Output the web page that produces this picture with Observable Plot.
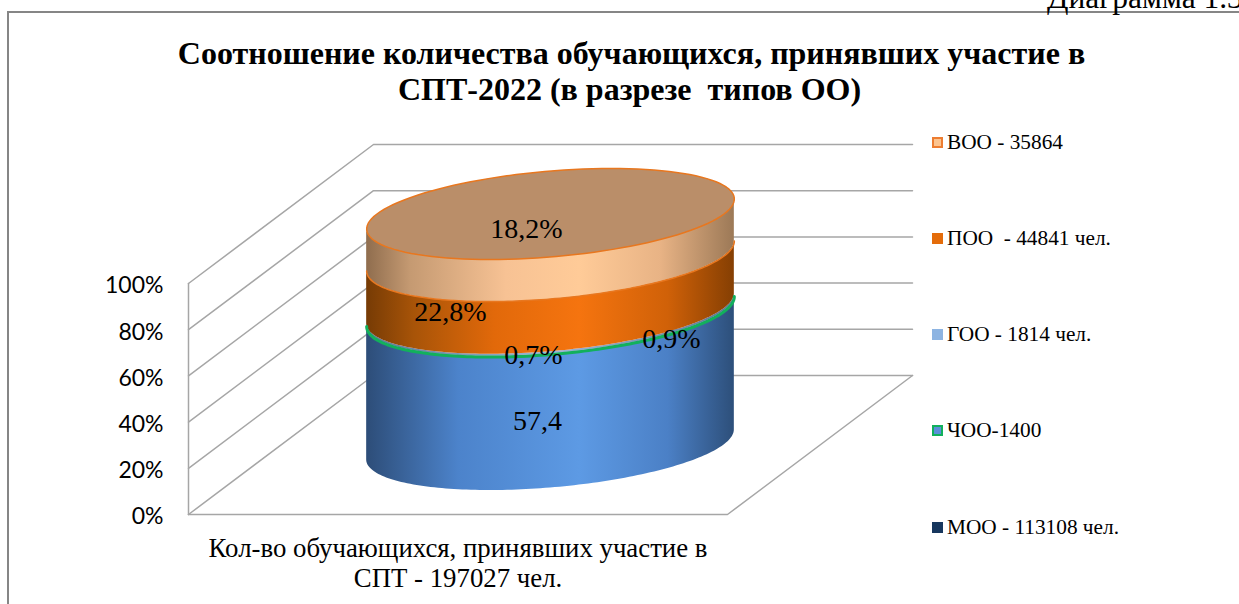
<!DOCTYPE html>
<html lang="ru">
<head>
<meta charset="utf-8">
<script src="https://cdn.jsdelivr.net/npm/d3@7"></script>
<script src="https://cdn.jsdelivr.net/npm/@observablehq/plot@0.6"></script>
<style>
  html, body { margin: 0; padding: 0; background: #fff; overflow: hidden; width: 1239px; height: 604px; }
  #page { position: relative; width: 1239px; height: 604px; overflow: hidden; font-family: "Liberation Serif", serif; color: #000; }
  #chart { position: absolute; left: 0; top: 0; }
  #frame { position: absolute; left: 7px; top: 11px; width: 1240px; height: 610px; border-left: 2px solid #868686; border-top: 2px solid #868686; }
  #note { position: absolute; left: 1047px; top: -20px; font-size: 31.5px; white-space: pre; }
  .title { position: absolute; width: 1239px; left: 0; text-align: center; font-weight: bold; font-size: 32px; white-space: pre; line-height: 36px; }
  .legend-row { position: absolute; left: 932px; height: 20px; display: flex; align-items: center; font-size: 21.3px; white-space: pre; }
  .swatch { box-sizing: border-box; width: 11px; height: 11px; margin-right: 4px; flex: none; }
</style>
</head>
<body>
<div id="page">
  <div id="chart"></div>
  <div id="frame"></div>
  <div id="note">Диаграмма 1.3</div>
  <div class="title" style="top:35px;left:12px">Соотношение количества обучающихся, принявших участие в</div>
  <div class="title" style="top:71px;left:10px">СПТ-2022 (в разрезе  типов ОО)</div>
  <div id="legend"></div>
</div>
<script>
// ---- data ----
const categories = ["МОО", "ЧОО", "ГОО", "ПОО", "ВОО"];
const percents = [57.4, 0.7, 0.9, 22.8, 18.2];
const valueLabels = ["57,4", "0,7%", "0,9%", "22,8%", "18,2%"];
const legendLabels = ["МОО - 113108 чел.", "ЧОО-1400", "ГОО - 1814 чел.", "ПОО  - 44841 чел.", "ВОО - 35864"];
const tickValues = [0, 20, 40, 60, 80, 100];
const categoryLabel = "Кол-во обучающихся, принявших участие в\nСПТ - 197027 чел.";

// ---- styles ----
const gridColor = "#a6a6a6";
const legendFill = ["#17375e", "#5b8fd9", "#8db4e2", "#e46c0a", "#fcc48f"];
const legendStroke = [null, "#12b05c", null, null, "#ed7d31"];
const legendBaseline = [527, 430, 334, 238, 142];
const gradients = {
  moo: [[0, "#2d4d78"], [0.25, "#4c83cb"], [0.58, "#5d9ae4"], [0.82, "#4b80c6"], [1, "#2d4f7a"]],
  choo: [[0, "#2d4d78"], [0.25, "#4c83cb"], [0.58, "#5d9ae4"], [0.82, "#4b80c6"], [1, "#2d4f7a"]],
  goo: [[0, "#5d7696"], [0.5, "#9db7d8"], [1, "#5d7696"]],
  poo: [[0, "#763b05"], [0.13, "#a85408"], [0.35, "#e2690a"], [0.58, "#f5740f"], [0.82, "#d06108"], [1, "#853f03"]],
  voo: [[0, "#8f6d4e"], [0.12, "#c59a72"], [0.38, "#f7c294"], [0.58, "#ffcb98"], [0.8, "#e8b385"], [1, "#9c7957"]]
};
const gradientIds = ["moo", "choo", "goo", "poo", "voo"];
const labelOffsets = [[-13, 42], [-17, 43], [121, 29], [-100, 30], [-24, -6]];

// ---- oblique projection: (across 0..1, depth 0..1, percent) -> chart scales ----
const depthX = 185 / 539, depthY = 139 / 2.31;
const px = (u, w) => u + w * depthX;
const py = (w, v) => v + w * depthY;
const radU = 0.322, radW = 0.3275;
const phi = Math.atan2(radW * 185, radU * 539);
const discPoint = (t, v) => {
  const u = 0.5 + radU * Math.cos(t), w = 0.5 + radW * Math.sin(t);
  return { x: px(u, w), y: py(w, v) };
};
const steps = d3.range(0, 121);
const frontT = steps.map(i => Math.PI + phi + (i / 120) * Math.PI);
const fullT = steps.map(i => (i / 120) * 2 * Math.PI);

// stacked bands
let acc = 0;
const bands = percents.map((p, i) => {
  const b = { id: gradientIds[i], name: categories[i], v0: acc, v1: acc + p, label: valueLabels[i], off: labelOffsets[i] };
  acc += p;
  return b;
});
const bandArea = b => frontT.map(t => {
  const lo = discPoint(t, b.v0), hi = discPoint(t, b.v1);
  return { x: lo.x, y1: lo.y, y2: hi.y };
});

// grid
const gridRows = tickValues.flatMap(v => [
  { tick: v, x: px(0, 0), y: py(0, v) },
  { tick: v, x: px(0, 1), y: py(1, v) },
  { tick: v, x: px(1, 1), y: py(1, v) }
]);

const defsMark = () => {
  const defs = d3.create("svg:defs");
  for (const [id, stops] of Object.entries(gradients)) {
    const g = defs.append("linearGradient").attr("id", "grad-" + id).attr("x1", 0).attr("x2", 1).attr("y1", 0).attr("y2", 0);
    for (const [o, c] of stops) g.append("stop").attr("offset", o).attr("stop-color", c);
  }
  return defs.node();
};

const serif = "Liberation Serif";
const arcLine = (v, stroke, strokeWidth) =>
  Plot.line(frontT.map(t => discPoint(t, v)), { x: "x", y: "y", stroke, strokeWidth });

const chart = Plot.plot({
  width: 1239,
  height: 604,
  marginLeft: 188,
  marginRight: 512,
  marginTop: 283,
  marginBottom: 90,
  style: { background: "transparent", overflow: "visible" },
  x: { domain: [0, 1], range: [188, 727], axis: null },
  y: { domain: [0, 100], range: [514, 283] },
  marks: [
    defsMark,
    // walls
    Plot.line(gridRows, { x: "x", y: "y", z: "tick", stroke: gridColor, strokeWidth: 1.5 }),
    Plot.line([{ x: px(0, 0), y: 0 }, { x: px(0, 0), y: 100 }], { x: "x", y: "y", stroke: gridColor, strokeWidth: 1.5 }),
    // floor
    Plot.line([{ x: px(0, 0), y: py(0, 0) }, { x: px(1, 0), y: py(0, 0) }, { x: px(1, 1), y: py(1, 0) }], { x: "x", y: "y", stroke: gridColor, strokeWidth: 1.5 }),
    Plot.axisY({ ticks: tickValues, tickSize: 0, tickPadding: 25, tickFormat: d => d + "%", label: null, fontSize: 23, fontFamily: "Lato", anchor: "left", dy: 2.5, fill: "#000" }),
    // bands
    ...bands.map(b => Plot.areaY(bandArea(b), { x: "x", y1: "y1", y2: "y2", fill: `url(#grad-${b.id})` })),
    arcLine(bands[1].v1 - 0.35, "#12b05c", 3),
    arcLine(bands[3].v1, "#e8771f", 1.5),
    // top disc
    Plot.line(fullT.map(t => discPoint(t, 100)), { x: "x", y: "y", fill: "#ba8e69", stroke: "#e8771f", strokeWidth: 1.5 }),
    // value labels
    ...bands.map(b => Plot.text([b], {
      x: () => px(0.5, 0.5), y: d => py(0.5, (d.v0 + d.v1) / 2), text: "label",
      dx: b.off[0], dy: b.off[1], fontFamily: serif, fontSize: 28, fill: "#000"
    })),
    // category label
    Plot.text([categoryLabel], {
      x: () => 0.5, y: () => 0, text: d => d, lineAnchor: "top", dy: 21, lineHeight: 1.12,
      fontFamily: serif, fontSize: 26.8, fill: "#000"
    })
  ]
});
document.getElementById("chart").append(chart);

// legend (top to bottom reversed against the stack)
const legend = document.getElementById("legend");
legendLabels.forEach((label, i) => {
  const row = document.createElement("div");
  row.className = "legend-row";
  row.style.top = (legendBaseline[i] - 10) + "px";
  const sw = document.createElement("span");
  sw.className = "swatch";
  sw.style.background = legendFill[i];
  if (legendStroke[i]) sw.style.border = "2px solid " + legendStroke[i];
  row.append(sw, document.createTextNode(label));
  legend.append(row);
});
</script>
</body>
</html>
